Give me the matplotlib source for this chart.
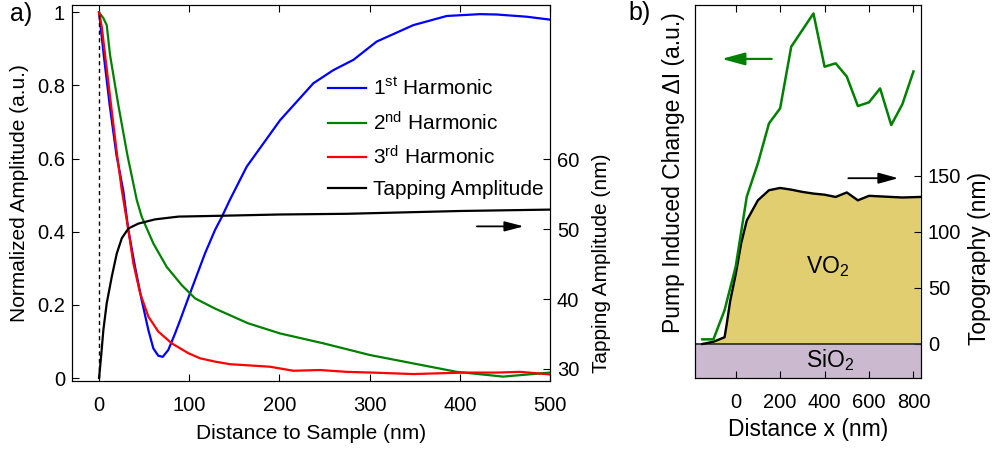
import matplotlib
matplotlib.use("Agg")
import matplotlib.pyplot as plt

plt.rcParams["font.family"] = ["Liberation Sans", "DejaVu Sans"]
plt.rcParams["mathtext.fontset"] = "custom"
plt.rcParams["mathtext.rm"] = "Liberation Sans"
plt.rcParams["mathtext.it"] = "Liberation Sans:italic"
plt.rcParams["mathtext.bf"] = "Liberation Sans:bold"

# ---- panel a: approach curves (distance nm -> normalized amplitude) ----
h1_x = [0, 5.2, 11.8, 19.3, 27, 32.5, 39.9, 47.3, 54.7, 60.2, 65.7, 70.6, 76.8, 84.3,
        90, 100.9, 117.5, 128.6, 136, 145, 163.7, 200.7, 237.6, 259.8, 282, 307.8,
        348.5, 385.5, 422.4, 441, 474, 500]
h1_y = [1.0, 0.883, 0.746, 0.61, 0.51, 0.405, 0.304, 0.213, 0.131, 0.081, 0.061, 0.058,
        0.077, 0.122, 0.159, 0.232, 0.341, 0.405, 0.44, 0.487, 0.578, 0.705, 0.806, 0.842,
        0.87, 0.92, 0.965, 0.99, 0.995, 0.994, 0.988, 0.98]

h2_x = [0, 4.8, 8.5, 12.2, 21.4, 31.4, 41.8, 47.3, 60.2, 75, 91.7, 106.4, 128.6, 145,
        165, 200.7, 248.7, 300.4, 348.5, 396.6, 448, 500]
h2_y = [1.0, 0.984, 0.965, 0.883, 0.746, 0.61, 0.487, 0.441, 0.368, 0.304, 0.254, 0.218,
        0.19, 0.172, 0.15, 0.122, 0.095, 0.063, 0.04, 0.017, 0.004, 0.015]

h3_x = [0, 3, 6.7, 13.3, 20, 25.2, 32.5, 38, 45.5, 54.7, 65.7, 80.6, 99, 112, 128.6,
        145, 189.6, 215.4, 245, 274.6, 303, 348.5, 404, 441, 466.7, 500]
h3_y = [1.0, 0.96, 0.883, 0.746, 0.61, 0.514, 0.405, 0.314, 0.232, 0.168, 0.127, 0.095,
        0.068, 0.054, 0.045, 0.038, 0.031, 0.02, 0.022, 0.017, 0.015, 0.011, 0.015, 0.015,
        0.017, 0.01]

tap_x = [0, 2.2, 4.8, 8.5, 14.1, 19.6, 25.2, 32.5, 43.6, 62, 88, 128.6, 200, 274.6, 400, 500]
tap_nm = [28.7, 31.7, 35.6, 39.4, 43.2, 46.5, 48.7, 50.1, 50.8, 51.4, 51.8, 51.9, 52.1,
          52.2, 52.6, 52.8]

legend_labels = ["1$^{\\rm st}$ Harmonic", "2$^{\\rm nd}$ Harmonic",
                 "3$^{\\rm rd}$ Harmonic", "Tapping Amplitude"]

# ---- panel b: line scan across VO2 edge ----
dI_x = [-150, -100, -50, 0, 50, 100, 150, 200, 250, 350, 400, 450, 500, 550, 600, 650,
        700, 750, 800]
dI_y = [0.014, 0.014, 0.10, 0.228, 0.435, 0.533, 0.651, 0.695, 0.877, 0.975, 0.818,
        0.828, 0.789, 0.702, 0.713, 0.754, 0.646, 0.707, 0.804]

topo_x = [-150, -100, -50, -40, -25, 0, 25, 50, 100, 150, 200, 250, 300, 350, 400, 450,
          500, 550, 600, 650, 700, 750, 830]
topo_h = [0, 2, 6, 18, 38, 62, 90, 110, 128, 137, 139, 137.5, 135.5, 134, 133, 131,
          135, 128, 132, 131.5, 131, 130.5, 131]

BLUE, GREEN, RED = "#0000ff", "#008000", "#ff0000"
GOLD, LILAC = "#e0ce70", "#cbb9d0"
TICK = 14.5

fig = plt.figure(figsize=(9.98, 4.5), dpi=100)

# ================= a) =================
ax1 = fig.add_axes([72 / 998, 69 / 450, 478 / 998, 376 / 450])
l1, = ax1.plot(h1_x, h1_y, color=BLUE, lw=1.6)
l2, = ax1.plot(h2_x, h2_y, color=GREEN, lw=1.6)
l3, = ax1.plot(h3_x, h3_y, color=RED, lw=1.6)
ax1.vlines(0, 0, 1, colors="k", linestyles=(0, (3, 2.5)), lw=1)
ax1.set_xlim(-30, 500)
ax1.set_ylim(-0.008, 1.02)
ax1.set_xticks([0, 100, 200, 300, 400, 500])
ax1.set_yticks([0, 0.2, 0.4, 0.6, 0.8, 1.0])
ax1.set_yticklabels(["0", "0.2", "0.4", "0.6", "0.8", "1"])
ax1.tick_params(direction="in", top=True, right=False, length=5, labelsize=TICK)
ax1.tick_params(axis="x", pad=11)
ax1.tick_params(axis="y", pad=5)
ax1.set_xlabel("Distance to Sample (nm)", fontsize=15, labelpad=6)
ax1.set_ylabel("Normalized Amplitude (a.u.)", fontsize=15, va="center")
ax1.yaxis.set_label_coords(-0.11, 0.5)

ax1b = ax1.twinx()
l4, = ax1b.plot(tap_x, tap_nm, color="k", lw=1.6)
ax1b.set_ylim(28.28, 82.07)
ax1b.set_yticks([30, 40, 50, 60])
ax1b.tick_params(direction="in", length=5, labelsize=TICK, pad=5)
ax1b.set_ylabel("Tapping Amplitude (nm)", fontsize=15, va="center")
ax1b.yaxis.set_label_coords(1.108, 0.314)
ax1b.annotate("", xy=(471, 50.4), xytext=(419, 50.4),
              arrowprops=dict(arrowstyle="-|>,head_length=1.15,head_width=0.3",
                              color="k", lw=1.3, shrinkA=0, shrinkB=0,
                              mutation_scale=10))

ax1.legend([l1, l2, l3, l4], legend_labels, loc="upper left",
           bbox_to_anchor=(0.5356, 0.806), frameon=False, fontsize=15,
           handlelength=1.8, handletextpad=0.35, labelspacing=0.55,
           borderpad=0, borderaxespad=0)

# ================= b) =================
ax2 = fig.add_axes([695 / 998, 72 / 450, 226 / 998, 373 / 450])
ax2b = ax2.twinx()
ax2b.set_ylim(-30.3, 302)
ax2b.axhspan(-30.3, 0, color=LILAC, lw=0)
ax2b.fill_between(topo_x, 0, topo_h, color=GOLD, lw=0)
ax2b.axhline(0, color="#333333", lw=1.3)
ax2b.plot(topo_x, topo_h, color="k", lw=1.7)
ax2b.set_yticks([0, 50, 100, 150])
ax2b.tick_params(direction="in", length=5, labelsize=TICK, pad=5)
ax2b.set_ylabel("Topography (nm)", fontsize=16.5, va="center")
ax2b.yaxis.set_label_coords(1.261, 0.321)
ax2b.text(415, 69, "VO$_2$", fontsize=16.5, ha="center", va="center")
ax2b.text(425, -14, "SiO$_2$", fontsize=16.5, ha="center", va="center")
ax2b.annotate("", xy=(732, 147.7), xytext=(507, 147.7),
              arrowprops=dict(arrowstyle="-|>,head_length=1.2,head_width=0.33",
                              color="k", lw=1.3, shrinkA=0, shrinkB=0,
                              mutation_scale=10))

ax2.set_zorder(ax2b.get_zorder() + 1)
ax2.patch.set_visible(False)
ax2.plot(dI_x, dI_y, color=GREEN, lw=1.8)
ax2.set_xlim(-183, 834)
ax2.set_ylim(-0.1, 1.0)
ax2.set_xticks([0, 200, 400, 600, 800])
ax2.set_yticks([])
ax2.tick_params(direction="in", top=True, length=5, labelsize=TICK)
ax2.tick_params(axis="x", pad=11)
ax2.set_xlabel("Distance x (nm)", fontsize=16.5, labelpad=4)
ax2.set_ylabel("Pump Induced Change ΔI (a.u.)", fontsize=16.5, va="center")
ax2.yaxis.set_label_coords(-0.095, 0.551)
ax2.annotate("", xy=(-63, 0.841), xytext=(162, 0.841),
             arrowprops=dict(arrowstyle="-|>,head_length=1.4,head_width=0.38",
                             color=GREEN, lw=1.6, shrinkA=0, shrinkB=0,
                             mutation_scale=10))

fig.text(21 / 998, 1 - 14 / 450, "a)", fontsize=18, ha="center", va="center")
fig.text(640 / 998, 1 - 13 / 450, "b)", fontsize=18, ha="center", va="center")

fig.savefig("out.png", dpi=100)
